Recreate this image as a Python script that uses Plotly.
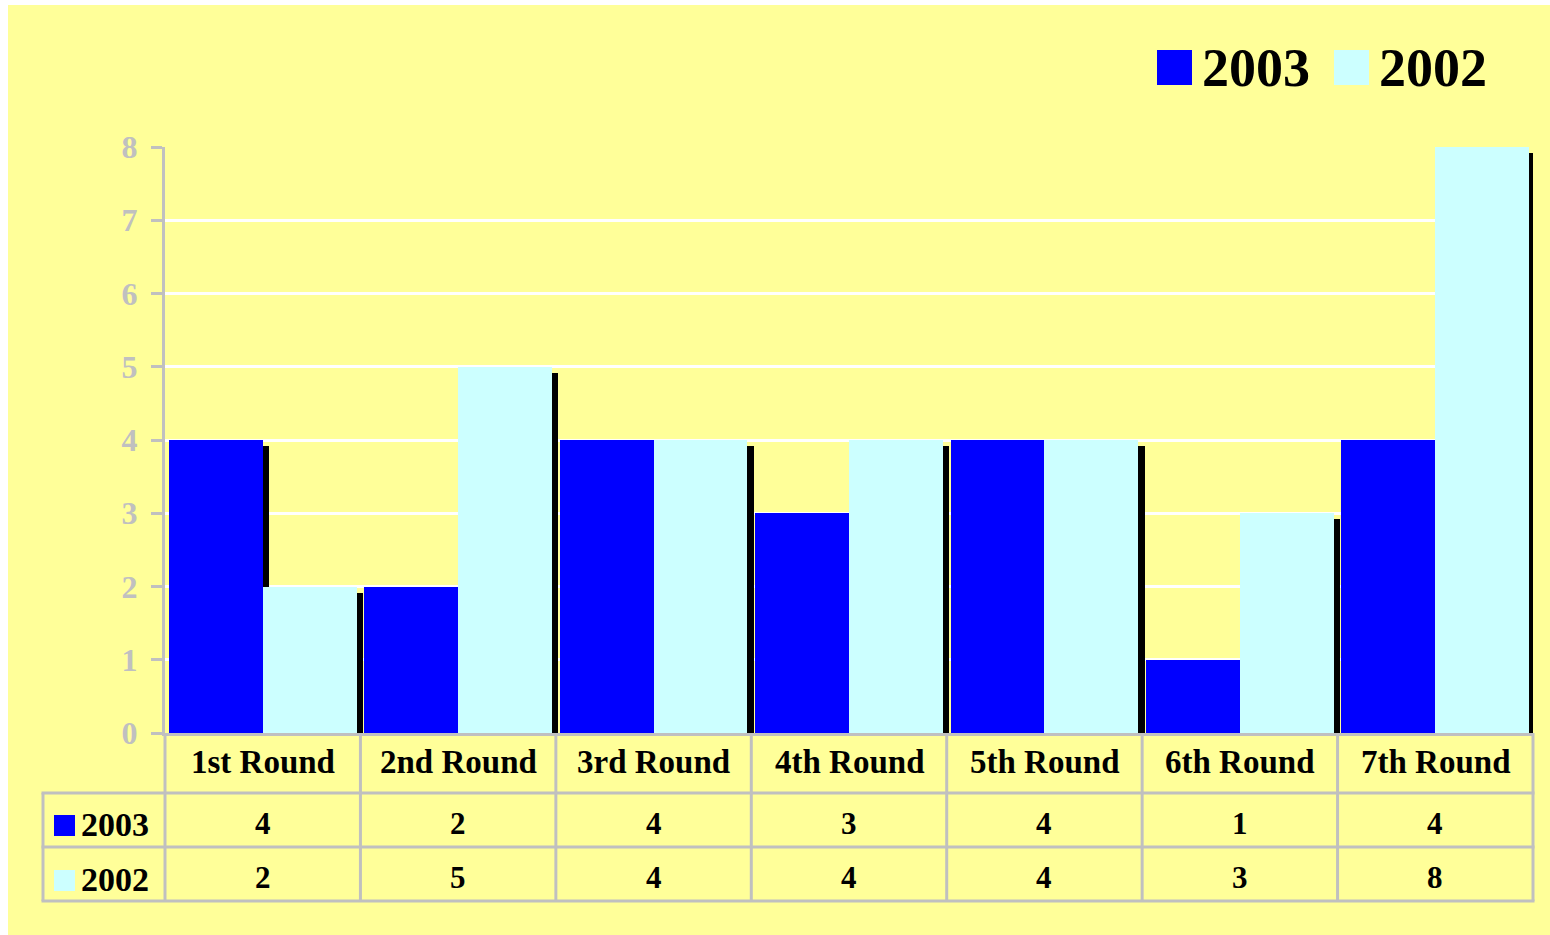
import plotly.graph_objects as go

categories = ["1st Round", "2nd Round", "3rd Round", "4th Round", "5th Round", "6th Round", "7th Round"]
series_names = ["2003", "2002"]
values_2003 = [4, 2, 4, 3, 4, 1, 4]
values_2002 = [2, 5, 4, 4, 4, 3, 8]
y_ticks = [0, 1, 2, 3, 4, 5, 6, 7, 8]

BLUE = "#0000FF"
CYAN = "#CCFFFF"
YELLOW = "#FFFF99"
GRAY = "#C0C0C0"
FONT = "Liberation Serif"

W, H = 1550, 935
L, R, T, B = 165, 17, 147, 202
PW, PH = W - L - R, H - T - B
n = len(categories)

def px(xp):
    return (xp - L) / PW

def py(yp):
    return (H - B - yp) / PH

unit_px = PH / 8.0
cat_px = PW / n
bw = 0.48
dx = 6.5 / cat_px
dy = 6.0 / unit_px
xs = list(range(n))

fig = go.Figure()
# shadows
fig.add_trace(go.Bar(x=xs, y=[v - dy for v in values_2003], offset=-bw + dx, width=bw,
                     marker=dict(color="black", line=dict(width=0)), showlegend=False, hoverinfo="skip"))
fig.add_trace(go.Bar(x=xs, y=[v - dy for v in values_2002], offset=dx, width=bw,
                     marker=dict(color="black", line=dict(width=0)), showlegend=False, hoverinfo="skip"))
# main bars
fig.add_trace(go.Bar(x=xs, y=values_2003, offset=-bw, width=bw, name=series_names[0],
                     marker=dict(color=BLUE, line=dict(width=0)), showlegend=False))
fig.add_trace(go.Bar(x=xs, y=values_2002, offset=0, width=bw, name=series_names[1],
                     marker=dict(color=CYAN, line=dict(width=0)), showlegend=False))

shapes = []
annotations = []

def bfont(size):
    return dict(family=FONT, size=size, color="black", weight="bold")

# yellow background with white border on left/top
shapes.append(dict(type="rect", xref="paper", yref="paper", layer="below",
                   x0=px(8), x1=px(W + 5), y0=py(5), y1=py(H + 5),
                   fillcolor=YELLOW, line=dict(width=0)))

# table lines
line = dict(color=GRAY, width=3)
for k in range(n + 1):
    shapes.append(dict(type="line", xref="paper", yref="paper",
                       x0=k / n, x1=k / n, y0=py(733), y1=py(901), line=line))
shapes.append(dict(type="line", xref="paper", yref="paper",
                   x0=px(43), x1=px(43), y0=py(793), y1=py(901), line=line))
for yy in (793, 847, 901):
    shapes.append(dict(type="line", xref="paper", yref="paper",
                       x0=px(43) - 1.5 / PW, x1=1 + 1.5 / PW, y0=py(yy), y1=py(yy), line=line))

# table header and values
for i, c in enumerate(categories):
    annotations.append(dict(x=i, xref="x", y=py(762), yref="paper", text=c, showarrow=False,
                            font=bfont(33), xanchor="center", yanchor="middle"))
    annotations.append(dict(x=i, xref="x", y=py(823), yref="paper", text=str(values_2003[i]), showarrow=False,
                            font=bfont(31), xanchor="center", yanchor="middle"))
    annotations.append(dict(x=i, xref="x", y=py(877), yref="paper", text=str(values_2002[i]), showarrow=False,
                            font=bfont(31), xanchor="center", yanchor="middle"))

# table legend keys
for name, color, yc in ((series_names[0], BLUE, 825), (series_names[1], CYAN, 880)):
    shapes.append(dict(type="rect", xref="paper", yref="paper", x0=px(54), x1=px(75),
                       y0=py(yc - 10), y1=py(yc + 11), fillcolor=color, line=dict(width=0)))
    annotations.append(dict(x=px(79), xref="paper", y=py(yc - 1), yref="paper", text=name, showarrow=False,
                            font=bfont(34), xanchor="left", yanchor="middle"))

# top legend
for name, color, x0 in ((series_names[0], BLUE, 1157), (series_names[1], CYAN, 1334)):
    shapes.append(dict(type="rect", xref="paper", yref="paper", x0=px(x0), x1=px(x0 + 35),
                       y0=py(50), y1=py(85), fillcolor=color, line=dict(width=0)))
    annotations.append(dict(x=px(x0 + 43), xref="paper", y=py(68), yref="paper", text=name, showarrow=False,
                            font=bfont(54), xanchor="left", yanchor="middle"))

fig.update_layout(
    width=W, height=H,
    margin=dict(l=L, r=R, t=T, b=B, pad=0),
    paper_bgcolor="white",
    plot_bgcolor=YELLOW,
    barmode="overlay",
    bargap=0,
    shapes=shapes,
    annotations=annotations,
    xaxis=dict(range=[-0.5, n - 0.5], showgrid=False, zeroline=False, showticklabels=False,
               showline=True, linecolor=GRAY, linewidth=3, ticks="", fixedrange=True),
    yaxis=dict(range=[0, 8], tickvals=y_ticks, showgrid=True, gridcolor="white", gridwidth=3,
               zeroline=False, showline=True, linecolor=GRAY, linewidth=3,
               ticks="outside", ticklen=11, tickwidth=3, tickcolor=GRAY,
               ticklabelstandoff=7,
               tickfont=dict(family=FONT, size=32, color=GRAY, weight="bold"), fixedrange=True),
    font=dict(family=FONT),
)

fig.write_html("out.html", config={"displayModeBar": False},
               post_script="document.body.style.margin='0';document.body.style.overflow='hidden';")
